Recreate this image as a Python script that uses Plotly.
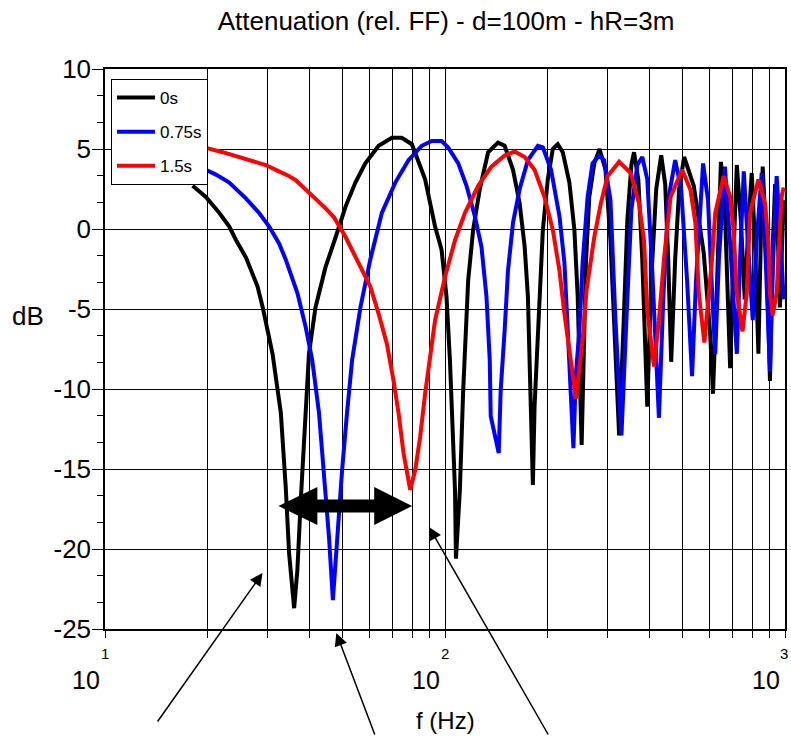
import plotly.graph_objects as go

# --- data (f in Hz, attenuation in dB) ---
freq_0s = [18.1, 19.8, 21.7, 23.2, 24.3, 26.0, 28.1, 29.1, 31.1, 32.9,
           34.0, 34.8, 36.0, 36.8, 37.6, 38.5, 39.8, 41.6, 44.5, 47.7,
           51.0, 54.5, 58.3, 63.8, 69.8, 74.6, 79.9, 87.4, 93.5, 97.7,
           101, 103.4, 104.6, 107.0, 107.7, 110.6, 113.1, 117.0, 121.0, 126.6,
           133.9, 143.2, 149.8, 158.5, 165.8, 171.5, 175.3, 179.3, 181.3, 183.4,
           189.7, 194.0, 200.6, 207.5, 214.6, 222.0, 232.2, 240.2, 245.6, 252.3,
           259.7, 265.7, 274.8, 284.8, 296.5, 306.7, 315.1, 325.2, 334.7, 343.9,
           353.3, 359.7, 370.3, 380.4, 393.5, 404.2, 418.1, 432.4, 444.3, 453.4,
           462.7, 475.3, 488.3, 505.0, 539, 576.8, 603, 614, 630.7, 647.9,
           667, 689.8, 705.8, 721.6, 741.3, 761.5, 782.2, 798.3, 817.3, 835.2,
           851.1, 859.8, 880.4, 903.2, 919.7, 935.4, 951.5, 966.2, 990.6]
db_0s = [2.7, 2.0, 1.0, 0.15, -0.7, -1.8, -3.6, -4.9, -7.8, -11.5,
         -16.1, -20.3, -23.7, -21.3, -17.2, -13.0, -7.8, -4.9, -2.4, -0.5,
         1.4, 2.9, 4.1, 5.2, 5.7, 5.7, 5.3, 3.1, 0.15, -1.3,
         -4.2, -8.2, -11.1, -16.3, -20.6, -16.3, -10.1, -3.2, -0.05, 2.5,
         4.8, 5.4, 5.2, 3.7, 1.6, -1.1, -4.2, -11.1, -16.0, -11.1,
         -4.2, -0.05, 3.1, 5.0, 5.3, 4.8, 2.9, -0.05, -4.2, -13.5,
         -2.1, 2.0, 4.1, 5.0, 3.7, -0.7, -6.3, -12.9, -6.3, 0.6,
         4.0, 4.8, 3.1, -1.9, -11.1, -3.2, 2.5, 4.6, 2.8, -1.9,
         -8.3, -1.9, 2.5, 4.5, 2.7, -1.5, -6.7, -10.3, -3.6, 4.2,
         0.6, -8.7, -1.5, 4.0, 0.6, -4.4, 0.6, 3.5, -1.3, -7.8,
         0.6, 3.9, -0.7, -9.5, -1.3, 2.8, -0.05, -4.9, 1.8]

freq_075s = [18.1, 19.6, 21.2, 23.2, 26.0, 28.4, 30.4, 32.5, 34.0, 36.8,
             38.9, 40.7, 42.6, 44.0, 45.6, 46.8, 48.2, 49.8, 51.5, 53.3,
             56.4, 60.3, 65.2, 71.4, 78.1, 85.4, 91.4, 97.7, 102.2, 109.4,
             115.7, 122.4, 128.0, 132.4, 135.4, 136.3, 143.9, 145.8,
             149.8, 153.2, 158.5, 165.8, 175.3, 187.6, 194.0, 205.1, 217.1, 224.5, 229.6,
             238.6, 242.8, 248.4, 254.0, 262.7, 271.6, 284.2, 293.9, 306.7, 317.2,
             330.3, 341.6, 353.3, 367.9, 380.4, 393.5, 407.0, 425.8, 438.4, 453.4,
             475.3, 494.9, 515.2, 532.9, 547.5, 574.2, 593.7, 609.9, 623.4, 639.2,
             665.6, 688.4, 721.6, 741.3, 756.4, 777.0, 803.8, 825.7, 854.0, 877.3,
             903.2, 922.9, 945.0, 970.7, 990.6]
db_075s = [4.0, 3.75, 3.4, 2.9, 1.9, 1.0, 0.15, -0.9, -1.9, -4.0,
           -6.1, -8.2, -11.5, -15.1, -19.3, -23.2, -19.3, -15.1, -11.5, -8.2,
           -4.9, -1.9, 1.0, 2.9, 4.3, 5.2, 5.5, 5.5, 5.1, 4.1,
           2.7, 0.8, -1.1, -4.2, -8.2, -11.7, -14.0, -10.1,
           -6.3, -2.6, 0.4, 2.5, 4.3, 5.2, 5.1, 3.7, 0.8, -2.1, -6.3,
           -13.7, -9.0, -6.3, -2.1, 2.0, 4.1, 4.6, 4.3, 1.8, -5.7,
           -12.9, -5.7, 1.2, 4.0, 4.5, 3.1, -2.6, -11.8, -4.4, 1.8,
           4.3, 2.5, -3.2, -9.2, -3.2, 4.1, 1.8, -3.8, -7.8, -1.9,
           3.9, -0.7, -7.8, -0.7, 3.6, -0.7, -5.7, -0.7, 3.5, -1.9,
           -8.9, -1.9, 3.3, -0.7, -4.4]

freq_15s = [18.1, 19.6, 22.2, 26.0, 29.7, 32.5, 34.5, 36.4, 38.0, 39.4, 41.8, 44.5,
            47.1, 51.0, 55.8, 60.3, 63.8, 67.5, 70.6, 73.0, 75.5, 79.0,
            81.7, 84.5, 87.4, 90.4, 93.5, 100, 107.0, 114.4, 125.2, 136.9,
            149.8, 160.3, 171.5, 183.4, 196.2, 207.5, 217.1, 224.5, 232.6, 242.8,
            254.0, 260.9, 274.8, 287.3, 300.6, 325.2, 351.7, 372.1, 384.8, 393.5,
            411.7, 425.8, 440.5, 460.6, 498.2, 527.0, 545.0, 557.7, 579.1, 596.4,
            609.9, 623.4, 659.9, 689.8, 705.8, 721.6, 749.9, 771.8, 789.2, 835.2,
            873.3, 893.4, 903.2, 919.7, 945.0, 977.2, 990.6]
db_15s = [5.2, 5.1, 4.8, 4.4, 4.0, 3.6, 3.35, 3.05, 2.7, 2.35, 1.85, 1.3,
          0.75, -0.5, -2.1, -3.6, -5.3, -7.2, -9.5, -11.5, -14.0, -16.3,
          -15.1, -13.0, -10.3, -8.2, -5.7, -3.0, -0.7, 1.0, 2.7, 3.9,
          4.6, 4.85, 4.5, 3.7, 2.0, -0.05, -2.6, -5.3, -7.6, -10.6,
          -6.9, -3.8, -0.5, 1.6, 3.3, 4.2, 3.5, 1.6, -0.7, -5.1,
          -8.6, -5.7, -1.9, 2.0, 3.7, 2.45, 0.4, -4.0, -7.1, -4.4,
          -1.9, 1.0, 3.3, 2.0, -0.05, -4.0, -6.4, -4.0, 1.0, 3.1,
          1.6, -0.7, -4.0, -5.4, -4.0, 2.0, 2.6]

series_names = ["0s", "0.75s", "1.5s"]
series_colors = ["#000000", "#0000ff", "#ff0000"]

y_ticks = [10, 5, 0, -5, -10, -15, -20, -25]
x_grid = [10, 20, 30, 40, 50, 60, 70, 80, 90,
          100, 200, 300, 400, 500, 600, 700, 800, 900, 1000]
x_decades = [1, 2, 3]

FONT = "Liberation Sans, Arial, sans-serif"
W, H = 791, 736
ML, MR, MT, MB = 105, 4, 69, 107
PW, PH = W - ML - MR, H - MT - MB


def paper(px, py):
    # screen pixel -> paper coords, only used for the hand drawn arrows / labels
    return (px - ML) / PW, (H - MB - py) / PH


fig = go.Figure()
for f, d, name, col in zip([freq_0s, freq_075s, freq_15s],
                           [db_0s, db_075s, db_15s],
                           series_names, series_colors):
    fig.add_trace(go.Scatter(x=f, y=d, mode="lines", name=name, legendgroup=name,
                             line=dict(color=col, width=4)))

fig.update_xaxes(type="log", range=[1, 3], tickvals=x_grid, showticklabels=False,
                 ticks="outside", ticklen=7, tickcolor="black", tickwidth=1.3,
                 showgrid=True, gridcolor="black", gridwidth=1.3,
                 showline=True, linecolor="black", linewidth=1.5, mirror=True,
                 zeroline=False)
fig.update_yaxes(range=[-25, 10], tickvals=y_ticks, ticktext=[str(v) for v in y_ticks],
                 ticks="outside", ticklen=11, tickcolor="black", tickwidth=1.3,
                 ticklabelstandoff=-4,
                 minor=dict(tick0=-25, dtick=5 / 3, ticks="outside", ticklen=6,
                            tickcolor="black", showgrid=False),
                 showgrid=True, gridcolor="black", gridwidth=1.3,
                 showline=True, linecolor="black", linewidth=1.5, mirror=True,
                 zeroline=False, tickfont=dict(size=26, color="black"))

# x tick labels drawn as 10 with the exponent sitting on the tick
for e in x_decades:
    xp = (e - 1) / 2
    fig.add_annotation(x=xp, y=paper(0, 680)[1], xref="paper", yref="paper", text="10",
                       showarrow=False, xanchor="right", yanchor="middle", xshift=-3,
                       font=dict(size=25, color="black", family=FONT))
    fig.add_annotation(x=xp, y=paper(0, 653)[1], xref="paper", yref="paper", text=str(e),
                       showarrow=False, xanchor="center", yanchor="middle",
                       xshift=-1 if e == x_decades[-1] else 0,
                       font=dict(size=15, color="black", family=FONT))

lx, ly = paper(446, 720)
fig.add_annotation(x=lx, y=ly, xref="paper", yref="paper", text="f (Hz)",
                   showarrow=False, xanchor="center", yanchor="middle",
                   font=dict(size=24, color="black", family=FONT))
lx, ly = paper(28, 316)
fig.add_annotation(x=lx, y=ly, xref="paper", yref="paper", text="dB",
                   showarrow=False, xanchor="center", yanchor="middle",
                   font=dict(size=26, color="black", family=FONT))

# thin arrows pointing into the plot
for head, tail in [((263, 573), (157, 723)), ((337, 633), (376, 745)), ((430, 527), (550, 745))]:
    hx, hy = paper(*head)
    fig.add_annotation(x=hx, y=hy, xref="paper", yref="paper", text="",
                       showarrow=True, arrowhead=2, arrowsize=1.7, arrowwidth=1.5,
                       arrowcolor="black", ax=tail[0] - head[0], ay=tail[1] - head[1])

# thick double arrow
pts = [(279, 506), (318, 487), (318, 499.5), (375, 499.5), (375, 487), (413, 506),
       (375, 525), (375, 512.5), (318, 512.5), (318, 525)]
path = "M " + " L ".join("%.4f,%.4f" % paper(*p) for p in pts) + " Z"
fig.add_shape(type="path", path=path, xref="paper", yref="paper",
              fillcolor="black", line=dict(color="black", width=0))

fig.update_layout(
    width=W, height=H, margin=dict(l=ML, r=MR, t=MT, b=MB),
    paper_bgcolor="white", plot_bgcolor="white",
    font=dict(family=FONT, color="black"),
    title=dict(text="Attenuation (rel. FF) - d=100m - hR=3m", x=446 / W,
               xanchor="center", y=1 - 21 / H, yanchor="middle",
               font=dict(size=26, color="black", family=FONT)),
    legend=dict(x=paper(111, 0)[0], y=paper(0, 79)[1], xanchor="left", yanchor="top",
                bgcolor="white", bordercolor="black", borderwidth=1, itemwidth=38,
                font=dict(size=17, color="black"), tracegroupgap=9),
    showlegend=True,
)

# drop the default 8px body margin so the figure fills the window
fig.write_html("out.html", config={"displayModeBar": False},
               post_script="document.body.style.margin='0';")
